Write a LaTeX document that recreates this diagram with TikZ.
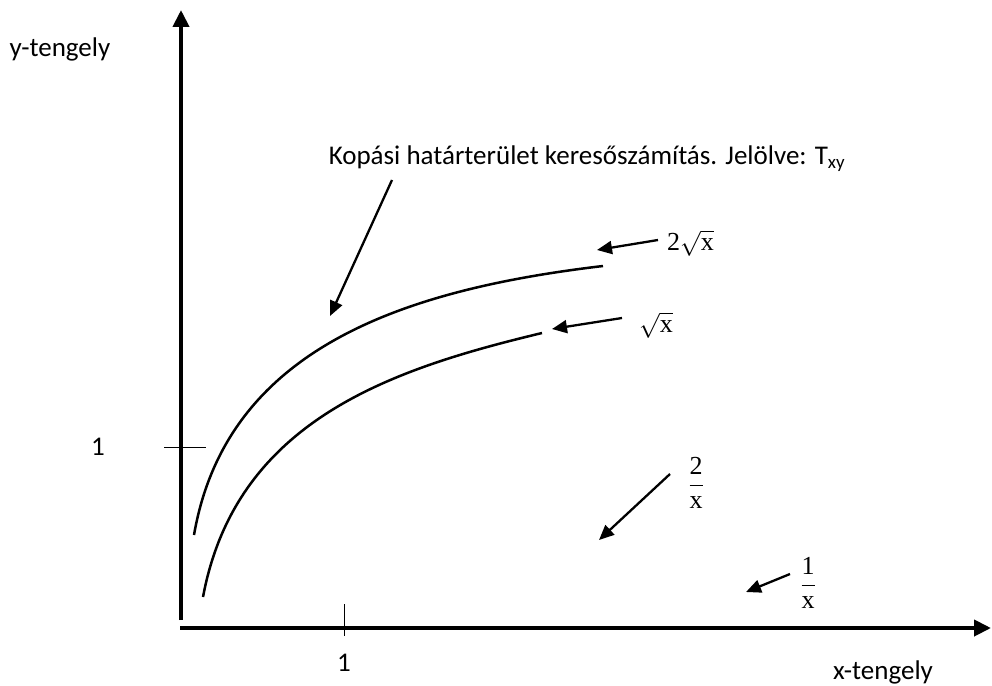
\documentclass[tikz,border=0pt]{standalone}
\usepackage[no-math]{fontspec}
\setmainfont{Carlito}
\newfontfamily\mserif{Liberation Serif}
\newcommand{\mx}{\text{\mserif x}}
\newcommand{\md}[1]{\text{\mserif #1}}
\usepackage{amsmath}
\usetikzlibrary{arrows.meta}
\tikzset{
  axisline/.style={line width=4pt, -{Triangle[length=17pt,width=16pt]}},
  curveline/.style={line width=2.5pt},
  ticklne/.style={line width=1pt},
  pointer/.style={line width=2.3pt, -{Triangle[length=15pt,width=13pt]}},
  lbl/.style={inner sep=0pt, font=\fontsize{27}{32}\selectfont},
  mlbl/.style={inner sep=0pt, font=\fontsize{26}{31}\selectfont}
}
\begin{document}
\begin{tikzpicture}[x=1pt, y=-1pt]
\useasboundingbox (0,0) rectangle (992,685);
% axes
\coordinate (yb) at (181,620);
\coordinate (yt) at (181,10);
\coordinate (xl) at (180,628);
\coordinate (xr) at (991,628);
\draw[axisline] (yb) -- (yt);
\draw[axisline] (xl) -- (xr);
% ticks
\coordinate (ty1) at (164,447);
\coordinate (ty2) at (206,447);
\coordinate (tx1) at (344,604);
\coordinate (tx2) at (344,636);
\draw[ticklne] (ty1) -- (ty2);
\draw[ticklne] (tx1) -- (tx2);
% labels
\node[lbl] (ylab) at (60,49) {y-tengely};
\node[lbl] (xlab) at (883,672) {x-tengely};
\node[lbl] (one y) at (98,447) {1};
\node[lbl] (one x) at (344,663) {1};
% curves
\coordinate (c1a) at (194,535);
\coordinate (c1b) at (603,266);
\coordinate (c2a) at (203,597);
\coordinate (c2b) at (542,333);
\draw[curveline] (c1a) .. controls (226,350) and (400,290) .. (c1b);
\draw[curveline] (c2a) .. controls (236,420) and (392,369) .. (c2b);
% annotation
\node[lbl] (ann) at (587,159) {Kopási határterület keresőszámítás. Jelölve: T\textsubscript{xy}};
\coordinate (a1s) at (392,180);
\coordinate (a1e) at (330,316);
\draw[pointer] (a1s) -- (a1e);
% 2 sqrt x
\node[mlbl, anchor=west] (tsq) at (667,243) {$\md{2}\sqrt{\mx}$};
\coordinate (a2s) at (658,240);
\coordinate (a2e) at (597,250);
\draw[pointer] (a2s) -- (a2e);
% sqrt x
\node[mlbl, anchor=west] (sq) at (639,325) {$\sqrt{\mx}$};
\coordinate (a3s) at (622,318);
\coordinate (a3e) at (552,329);
\draw[pointer] (a3s) -- (a3e);
% 2/x
\node[mlbl] (twox) at (696,483) {$\dfrac{\md{2}}{\mx}$};
\coordinate (a4s) at (670,474);
\coordinate (a4e) at (599,540);
\draw[pointer] (a4s) -- (a4e);
% 1/x
\node[mlbl] (onex) at (808,583) {$\dfrac{\md{1}}{\mx}$};
\coordinate (a5s) at (790,574);
\coordinate (a5e) at (746,592);
\draw[pointer] (a5s) -- (a5e);
\end{tikzpicture}
\end{document}
